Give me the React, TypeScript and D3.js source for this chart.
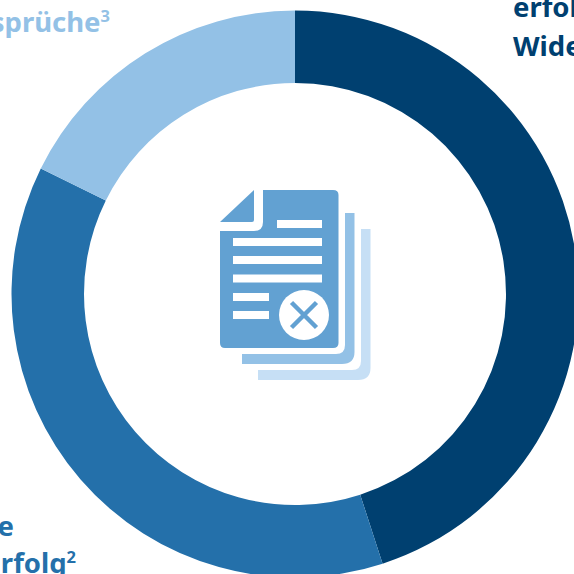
import React from "react";
import * as d3 from "d3";

const categories = ["erfolgreiche Widersprüche", "Widersprüche ohne Erfolg", "sonstige Widersprüche"];
const shares = [45, 37.3, 17.7];
const ringColors = ["#004070", "#2470aa", "#93c1e6"];

const SIZE = 574;
const CX = 295;
const CY = 294;
const OUTER = 283.5;
const INNER = 211;

// Labels run past the canvas edge; the svg clips them.
const labels = [
  { text: "erfolgreiche", sup: "", x: 513, y: 17, anchor: "start", color: ringColors[0] },
  { text: "Widersprüche", sup: "", x: 513, y: 56, anchor: "start", color: ringColors[0] },
  { text: "ohne", sup: "", x: 14, y: 536, anchor: "end", color: ringColors[1] },
  { text: "Erfolg", sup: "2", x: 76, y: 573, anchor: "end", color: ringColors[1] },
  { text: "Widersprüche", sup: "3", x: 110, y: 32, anchor: "end", color: ringColors[2] },
];

const fileDark = "#62a1d2";
const fileMid = "#93c1e6";
const fileLight = "#c6dff5";
const textLines: [number, number, number][] = [
  [277, 322, 224],
  [233, 322, 242],
  [233, 322, 260],
  [233, 322, 278.5],
  [233, 269, 297],
  [233, 269, 315],
];

export default function App() {
  const pie = d3.pie<number>().sort(null).value((d) => d);
  const arc = d3.arc<d3.PieArcDatum<number>>().innerRadius(INNER).outerRadius(OUTER);
  const slices = pie(shares);

  return (
    <svg
      width={SIZE}
      height={SIZE}
      viewBox={`0 0 ${SIZE} ${SIZE}`}
      style={{ position: "absolute", left: 0, top: 0, overflow: "hidden", background: "#fff" }}
    >
      <g transform={`translate(${CX},${CY})`}>
        {slices.map((s, i) => (
          <path key={categories[i]} d={arc(s) ?? ""} fill={ringColors[i]} />
        ))}
      </g>

      {labels.map((l) => (
        <text
          key={l.text + l.y}
          x={l.x}
          y={l.y}
          textAnchor={l.anchor as "start" | "end"}
          fontFamily="'Noto Sans', 'Open Sans', sans-serif"
          fontWeight={700}
          fontSize={27.5}
          fill={l.color}
        >
          {l.text}
          {l.sup ? (
            <tspan fontSize={16.5} dy={-10}>
              {l.sup}
            </tspan>
          ) : null}
        </text>
      ))}

      {/* stacked sheets behind the front page */}
      <path
        d="M258 370 H352 Q361 370 361 361 V229 H370.5 V368 Q370.5 380 358 380 H258 Z"
        fill={fileLight}
      />
      <path
        d="M242 354 H336 Q345 354 345 345 V213 H354.5 V352 Q354.5 364 342 364 H242 Z"
        fill={fileMid}
      />

      {/* front page with folded corner */}
      <path
        d="M263 190 H333 Q338.500 190 338.500 195 V343 Q338.500 348 333 348 H225 Q220 348 220 343 V231 H254 Q263 231 263 222 Z"
        fill={fileDark}
      />
      <path d="M254 190 V220 Q254 222 252 222 H220 Z" fill={fileDark} />
      {textLines.map(([x1, x2, y]) => (
        <line key={`${x1}-${y}`} x1={x1} x2={x2} y1={y} y2={y} stroke="#fff" strokeWidth={8} />
      ))}
      <circle cx={304} cy={315} r={25} fill="#fff" />
      <path d="M291.500 302.500 L316.500 327.500 M316.500 302.500 L291.500 327.500" stroke={fileDark} strokeWidth={4.5} fill="none" />
    </svg>
  );
}
